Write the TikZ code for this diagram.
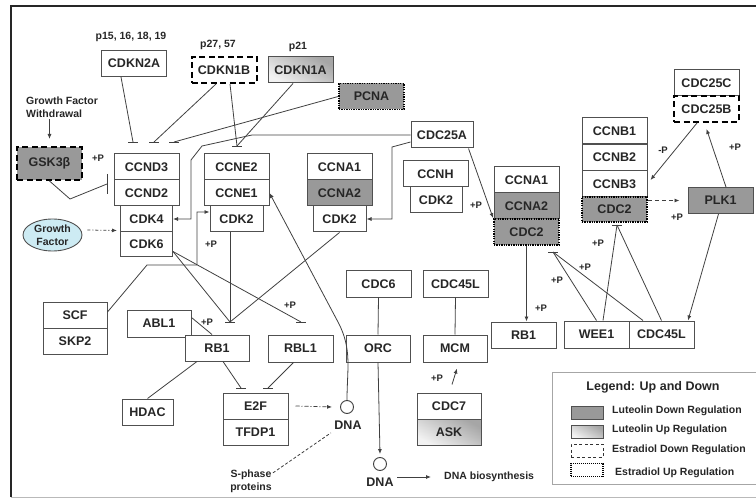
\documentclass[tikz,border=0pt]{standalone}
\usepackage{fontspec}
\setmainfont{Liberation Sans}
\usetikzlibrary{arrows.meta,shapes.geometric}
\definecolor{lutdown}{RGB}{153,153,153}
\definecolor{gfcyan}{RGB}{205,235,243}
\definecolor{edge}{RGB}{80,80,80}
\newcommand\boxfont{\fontsize{12.5}{14}\selectfont\bfseries}
\newcommand\smallfont{\fontsize{10.5}{13}\selectfont\bfseries}
\newcommand\pfont{\fontsize{9.5}{11}\selectfont\bfseries}
\tikzset{
  gene/.style={draw=edge, line width=1pt, fill=white, minimum width=65pt,
    minimum height=26pt, inner sep=0pt, font=\boxfont, text=black!85},
  kin/.style={gene, minimum width=52pt},
  lutdn/.style={fill=lutdown},
  lutup/.style={top color=gray!70, bottom color=gray!10, shading angle=-30},
  estdn/.style={draw=black, dash pattern=on 6pt off 3.5pt, line width=2pt},
  estup/.style={draw=black, dash pattern=on 1.3pt off 1.1pt, line width=1.7pt},
  link/.style={draw=black!75, line width=0.8pt},
  arr/.style={link, -{Latex[length=5pt,width=4pt]}},
  inh/.style={draw=black!75, line width=0.9pt},
  lbl/.style={font=\smallfont, text=black!85, inner sep=1pt, align=center},
  plab/.style={font=\pfont, text=black!85, inner sep=0pt},
  dna/.style={circle, draw=black!75, line width=0.9pt, fill=white,
    minimum size=13pt, inner sep=0pt},
  swatch/.style={draw=edge, line width=0.8pt, minimum width=32pt,
    minimum height=13pt, inner sep=0pt},
}
\begin{document}
\begin{tikzpicture}[x=1pt,y=-1pt]
\useasboundingbox (0,0) rectangle (756,500);
\clip (0,0) rectangle (756,500);

% outer frame
\draw[line width=2pt, black!85] (11,497) -- (11,6) -- (770,6);
\draw[gray!55, line width=1pt] (11,497) -- (770,497);

% inhibitors and upstream regulators
\node[lbl] (p15) at (131,37) {p15, 16, 18, 19};
\node[lbl] (p27) at (218,45) {p27, 57};
\node[lbl] (p21) at (298,47) {p21};
\node[gene] (cdkn2a) at (134,63.5) {CDKN2A};
\node[gene, estdn] (cdkn1b) at (224,70) {CDKN1B};
\node[gene, lutup] (cdkn1a) at (300.5,70) {CDKN1A};
\node[gene, lutdn, estup] (pcna) at (371.5,96.5) {PCNA};
\node[gene, minimum width=62pt] (cdc25a) at (442,135) {CDC25A};
\node[gene] (cdc25c) at (706.5,83) {CDC25C};
\node[gene, estdn] (cdc25b) at (706.5,109) {CDC25B};
\node[lbl, anchor=west, align=left] (gfw) at (25,107.5) {Growth Factor\\Withdrawal};
\node[gene, lutdn, estdn, minimum height=33pt] (gsk3b) at (49.5,163.5) {GSK3β};
\node[ellipse, draw=edge, line width=0.9pt, fill=gfcyan, minimum width=59pt,
  minimum height=32pt, inner sep=0pt, font=\smallfont, align=center, text=black!85]
  (gf) at (52.5,235) {Growth\\Factor};

% cyclin / CDK complexes
\node[gene] (ccnd3) at (146.5,167) {CCND3};
\node[gene] (ccnd2) at (146.5,193) {CCND2};
\node[kin] (cdk4) at (146.5,219) {CDK4};
\node[kin, minimum height=25pt] (cdk6) at (146.5,244.5) {CDK6};
\node[gene] (ccne2) at (236.5,167) {CCNE2};
\node[gene] (ccne1) at (236.5,193) {CCNE1};
\node[kin, minimum width=53pt] (cdk2a) at (236.5,219) {CDK2};
\node[gene] (ccna1) at (339.5,167) {CCNA1};
\node[gene, lutdn] (ccna2) at (339.5,193) {CCNA2};
\node[kin, minimum width=53pt] (cdk2b) at (339.5,219) {CDK2};
\node[gene] (ccnh) at (435.5,174) {CCNH};
\node[kin] (cdk2c) at (436,200) {CDK2};
\node[gene] (ccna1r) at (526.5,180) {CCNA1};
\node[gene, lutdn] (ccna2r) at (526.5,206) {CCNA2};
\node[gene, lutdn, estup] (cdc2a) at (526.5,232) {CDC2};
\node[gene] (ccnb1) at (614.5,131) {CCNB1};
\node[gene] (ccnb2) at (614.5,157.5) {CCNB2};
\node[gene] (ccnb3) at (614.5,184) {CCNB3};
\node[gene, lutdn, estup, minimum height=25pt] (cdc2b) at (614.5,209.5) {CDC2};
\node[gene, lutdn] (plk1) at (720.5,200.5) {PLK1};

% lower part
\node[gene, minimum width=64pt] (scf) at (75,315) {SCF};
\node[gene, minimum width=64pt] (skp2) at (75,341) {SKP2};
\node[gene, minimum width=64pt, minimum height=27pt] (abl1) at (159,323.5) {ABL1};
\node[gene, minimum width=64pt] (rb1) at (217,348) {RB1};
\node[gene, minimum height=27pt] (rbl1) at (300.5,348.5) {RBL1};
\node[kin, minimum width=51pt] (hdac) at (147.5,412) {HDAC};
\node[gene] (e2f) at (255.5,406) {E2F};
\node[gene] (tfdp1) at (255.5,432) {TFDP1};
\node[gene] (cdc6) at (378.5,284) {CDC6};
\node[gene] (cdc45l) at (455.5,284) {CDC45L};
\node[gene, minimum width=64pt, minimum height=27pt] (orc) at (378,348.5) {ORC};
\node[gene, minimum width=64pt, minimum height=27pt] (mcm) at (455,348.5) {MCM};
\node[gene, minimum width=64pt] (cdc7) at (449,406) {CDC7};
\node[gene, minimum width=64pt, lutup] (ask) at (449,432) {ASK};
\node[gene] (rb1r) at (523.5,335) {RB1};
\node[gene, minimum height=27pt] (wee1) at (596.5,334.5) {WEE1};
\node[gene, minimum height=27pt] (cdc45lr) at (661.5,334.5) {CDC45L};

\node[dna] (dna1) at (347,407) {};
\node[font=\boxfont, text=black!85] (dnal1) at (348,425) {DNA};
\node[dna] (dna2) at (380,464) {};
\node[font=\boxfont, text=black!85] (dnal2) at (380,482) {DNA};
\node[lbl] (sph) at (251,481.5) {S-phase\\proteins};
\node[lbl, anchor=west, inner sep=0pt] (bios) at (444,477) {DNA biosynthesis};

% inhibition bar positions and path bends
\coordinate (b1) at (133,142);
\coordinate (b2) at (154,142);
\coordinate (b4) at (174,142);
\coordinate (b3) at (237,146);
\coordinate (b5) at (230,322);
\coordinate (b6) at (301,322);
\coordinate (b7) at (241,388);
\coordinate (b8) at (268,388);
\coordinate (b9) at (553,252);
\coordinate (b10) at (617,225);
\coordinate (b11) at (107,184);
\coordinate (k1) at (252,135);
\coordinate (k2) at (202,146);
\coordinate (k3) at (191,160);
\coordinate (k4) at (392,147);
\coordinate (k5) at (147,265);
\coordinate (k6) at (197,265);
\coordinate (k7) at (338,322);
\coordinate (k8) at (70,199);

% connectors
\draw[link] ([xshift=-13pt]cdkn2a.south) -- (b1);
\draw[link] ([xshift=-8pt]cdkn1b.south) -- (b2);
\draw[link] ([xshift=6pt]cdkn1b.south) -- (b3);
\draw[link] ([xshift=-7.5pt]cdkn1a.south) -- (b3);
\draw[link] (pcna.west) -- (b4);
\draw[arr] (cdc25a.west) -- (k1) -- (k2) -- (k3) |- (cdk4.east);
\draw[arr] ([yshift=-7pt]cdc25a.west) -- (k4) |- (cdk2b.east);
\draw[arr] ([xshift=-5pt]cdc25a.south east) -- (cdc2a.north west);
\draw[arr] ([yshift=3pt]scf.east) -- (k5) -- (k6) |- ([yshift=7pt]cdk2a.west);
\draw[link] (cdk2a.south -| b5) -- (b5);
\draw[link] (cdk2b.south) -- (b5);
\draw[link] ([yshift=-7pt]cdk6.east) -- (b5);
\draw[link] ([yshift=-7pt]cdk6.east) -- (b6);
\draw[link] ([yshift=6pt]abl1.east) -- ([xshift=-5pt]rb1.north);
\draw[link] ([xshift=-20pt]rb1.south) -- (hdac.north);
\draw[link] ([xshift=6pt]rb1.south) -- (b7);
\draw[link] ([xshift=-7pt]rbl1.south) -- (b8);
\draw[arr, dash pattern=on 4pt off 2pt on 1pt off 2pt] ([xshift=7pt]e2f.east) -- ([xshift=-8pt]dna1.west);
\draw[arr] (dna1.north) to[out=90,in=-62] (k7) -- (ccne1.east);
\draw[link, dash pattern=on 3pt off 2pt] ([yshift=-4pt]sph.north east) -- (dnal1.south west);
\draw[link] (cdc6.south) -- (orc.north);
\draw[link] (cdc45l.south) -- (mcm.north);
\draw[arr] (orc.south) -- ([yshift=3pt]dna2.north);
\draw[arr] ([yshift=5pt]dnal2.east) -- ([xshift=-13pt]bios.west);
\draw[arr] ([shift={(3pt,8pt)}]cdc7.north) -- ([shift={(2pt,-6pt)}]mcm.south);
\draw[arr] (cdc2a.south) -- (cdc2a.south |- rb1r.north);
\draw[link] (wee1.north) -- (b9);
\draw[link] ([xshift=-18.5pt]cdc45lr.north) -- (b9);
\draw[link] ([xshift=6.5pt]wee1.north) -- (b10);
\draw[link] (cdc45lr.north) -- (b10);
\draw[arr] ([xshift=-2pt]plk1.south) -- ([xshift=26.5pt]cdc45lr.north);
\draw[arr] ([xshift=-9.5pt]cdc25b.south) -- ([shift={(3pt,4pt)}]ccnb3.east);
\draw[arr] ([xshift=5.5pt]plk1.north) -- ([yshift=-6pt]cdc25b.south);
\draw[arr, dash pattern=on 4pt off 3pt] (cdc2b.east |- plk1.west) -- ([xshift=-8pt]plk1.west);
\draw[link] (gsk3b.south) -- (k8) -- (b11);
\draw[inh] ([yshift=10pt]b11) -- ([yshift=-10pt]b11);
\draw[arr] (gfw.south -| gsk3b.north) -- ([yshift=7pt]gsk3b.north);
\draw[arr, dash pattern=on 3pt off 2pt on 1pt off 2pt] ([shift={(5pt,5pt)}]gf.east) -- ([shift={(-3pt,2pt)}]cdk4.south west);
\foreach \b in {b1,b2,b3,b4,b5,b6,b7,b8,b9,b10}
  \draw[inh] ([xshift=-5pt]\b) -- ([xshift=5pt]\b);

% phosphorylation marks
\node[plab] (ph1) at (98,158) {+P};
\node[plab] (ph2) at (211,244) {+P};
\node[plab] (ph3) at (207,322) {+P};
\node[plab] (ph4) at (290,305) {+P};
\node[plab] (ph5) at (476,205) {+P};
\node[plab] (ph6) at (541,308) {+P};
\node[plab] (ph7) at (557,280) {+P};
\node[plab] (ph8) at (585,267) {+P};
\node[plab] (ph9) at (598,243) {+P};
\node[plab] (ph10) at (663,150) {-P};
\node[plab] (ph11) at (735,147) {+P};
\node[plab] (ph12) at (677,217) {+P};
\node[plab] (ph13) at (437,378) {+P};

% legend
\node[draw=gray!70, line width=1pt, minimum width=218pt, minimum height=112pt,
  inner sep=0pt] (legend) at (661,428) {};
\node[font=\boxfont, text=black!85] (legt) at (653,387) {Legend: Up and Down};
\node[swatch, lutdn] (sw1) at (587,412.5) {};
\node[swatch, lutup] (sw2) at (587,431.5) {};
\node[swatch, draw=black!80, dash pattern=on 3pt off 2.5pt, line width=1pt] (sw3) at (587,450.5) {};
\node[swatch, draw=black, dash pattern=on 1pt off 1pt, line width=1.3pt] (sw4) at (587,470) {};
\node[lbl, anchor=west] (lt1) at (611,411) {Luteolin Down Regulation};
\node[lbl, anchor=west] (lt2) at (611,429.5) {Luteolin Up Regulation};
\node[lbl, anchor=west] (lt3) at (611,450) {Estradiol Down Regulation};
\node[lbl, anchor=west] (lt4) at (614,473) {Estradiol Up Regulation};
\end{tikzpicture}
\end{document}
